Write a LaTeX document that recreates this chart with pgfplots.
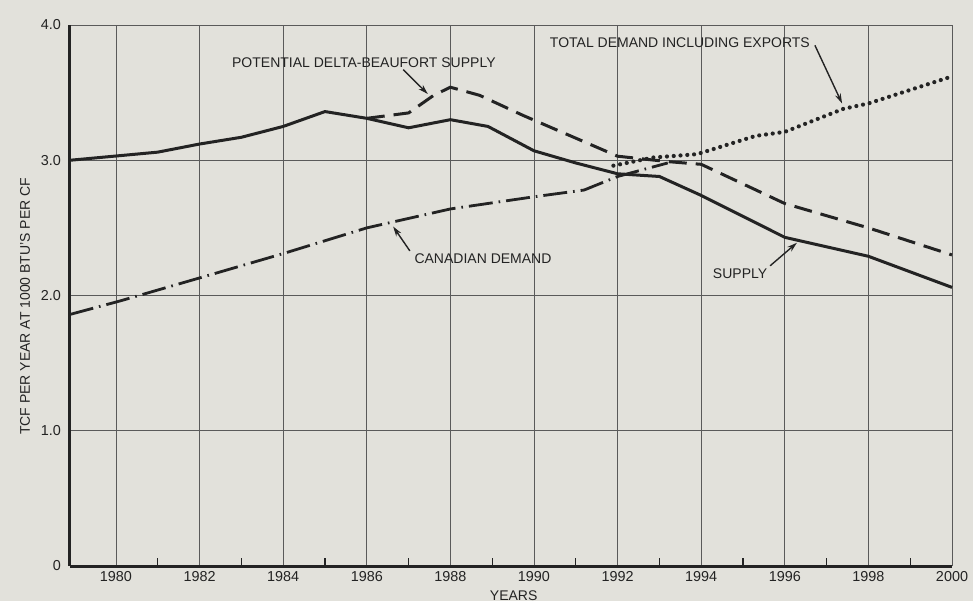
\documentclass[border=0pt]{standalone}
\usepackage{fontspec}
\setmainfont{Liberation Sans}
\usepackage{pgfplots}
\pgfplotsset{compat=1.18}
\usetikzlibrary{arrows.meta}
\definecolor{paper}{RGB}{226,225,219}
\definecolor{ink}{RGB}{35,35,35}
\definecolor{gridc}{RGB}{90,90,90}
\begin{document}
\begin{tikzpicture}
\fill[paper] (-35pt,-17.5pt) rectangle (451.5pt,283pt);
\path[use as bounding box] (-35pt,-17.5pt) rectangle (451.5pt,283pt);
\begin{axis}[
  at={(0,0)}, anchor=south west,
  scale only axis, width=441pt, height=270.5pt,
  xmin=1978.9, xmax=2000, ymin=0, ymax=4,
  axis x line*=bottom, axis y line*=left,
  axis line style={ink, line width=1.5pt, -},
  xtick={1980,1982,...,2000},
  xticklabels={1980,1982,1984,1986,1988,1990,1992,1994,1996,1998,2000},
  minor xtick={1981,1983,...,1999},
  ytick={0,1,2,3,4}, yticklabels={0,1.0,2.0,3.0,4.0},
  grid=major, major grid style={gridc, line width=0.45pt},
  major tick length=0pt, minor tick length=4pt, tick align=inside,
  minor tick style={ink, line width=0.6pt},
  tick label style={font=\fontsize{7.2}{8}\selectfont, text=ink},
  xticklabel style={yshift=1pt},
  yticklabel style={xshift=-1pt},
  ylabel={TCF PER YEAR AT 1000 BTU'S PER CF},
  ylabel style={at={(axis description cs:-0.051,0.48)}, anchor=center, font=\fontsize{7}{8}\selectfont, text=ink},
  xlabel={YEARS},
  xlabel style={at={(axis description cs:0.503,-0.054)}, anchor=center, font=\fontsize{7}{8}\selectfont, text=ink},
  clip=false,
]
% Supply
\addplot[ink, line width=1.5pt] coordinates {
(1978.9,3.00) (1981,3.06) (1982,3.12) (1983,3.17) (1984,3.25) (1985,3.36)
(1986,3.31) (1987,3.24) (1988,3.30) (1988.9,3.25) (1990,3.07) (1991,2.98)
(1992,2.90) (1993,2.88) (1994,2.74) (1996,2.43) (1998,2.29) (2000,2.06)};
% Potential Delta-Beaufort supply
\addplot[ink, line width=1.5pt, dash pattern=on 9pt off 4.5pt] coordinates {
(1986,3.31) (1987,3.35) (1987.6,3.48) (1988,3.54) (1988.7,3.48) (1989.75,3.33)
(1992,3.03) (1993.2,2.99) (1994,2.97) (1996,2.68) (1998,2.50) (2000,2.30)};
% Canadian demand
\addplot[ink, line width=1.4pt, dash pattern=on 12pt off 3pt on 0.8pt off 3pt] coordinates {
(1978.9,1.86) (1980.1,1.96) (1982,2.13) (1984,2.31) (1986,2.50) (1988,2.64)
(1990,2.73) (1991.2,2.78) (1992,2.88) (1993.2,2.98)};
% Total demand including exports
\addplot[ink, line width=2.1pt, line cap=round, dash pattern=on 0pt off 3.4pt] coordinates {
(1991.9,2.96) (1992.85,3.02) (1993.9,3.045) (1995.3,3.18) (1996,3.21)
(1997.4,3.38) (1998,3.42) (2000,3.62)};
% annotations
\node[font=\fontsize{7}{8}\selectfont, text=ink] at (axis cs:1985.93,3.72) {POTENTIAL DELTA-BEAUFORT SUPPLY};
\draw[ink, line width=0.7pt, -{Stealth[length=5pt,width=3pt]}] (axis cs:1986.87,3.67) -- (axis cs:1987.46,3.49);
\node[font=\fontsize{7}{8}\selectfont, text=ink] at (axis cs:1988.78,2.27) {CANADIAN DEMAND};
\draw[ink, line width=0.7pt, -{Stealth[length=5pt,width=3pt]}] (axis cs:1987.03,2.33) -- (axis cs:1986.63,2.51);
\node[font=\fontsize{7}{8}\selectfont, text=ink] at (axis cs:1993.49,3.87) {TOTAL DEMAND INCLUDING EXPORTS};
\draw[ink, line width=0.7pt, -{Stealth[length=5pt,width=3pt]}] (axis cs:1996.72,3.85) -- (axis cs:1997.37,3.42);
\node[font=\fontsize{7}{8}\selectfont, text=ink] at (axis cs:1994.93,2.16) {SUPPLY};
\draw[ink, line width=0.7pt, -{Stealth[length=5pt,width=3pt]}] (axis cs:1995.65,2.22) -- (axis cs:1996.29,2.39);
\end{axis}
\end{tikzpicture}
\end{document}
